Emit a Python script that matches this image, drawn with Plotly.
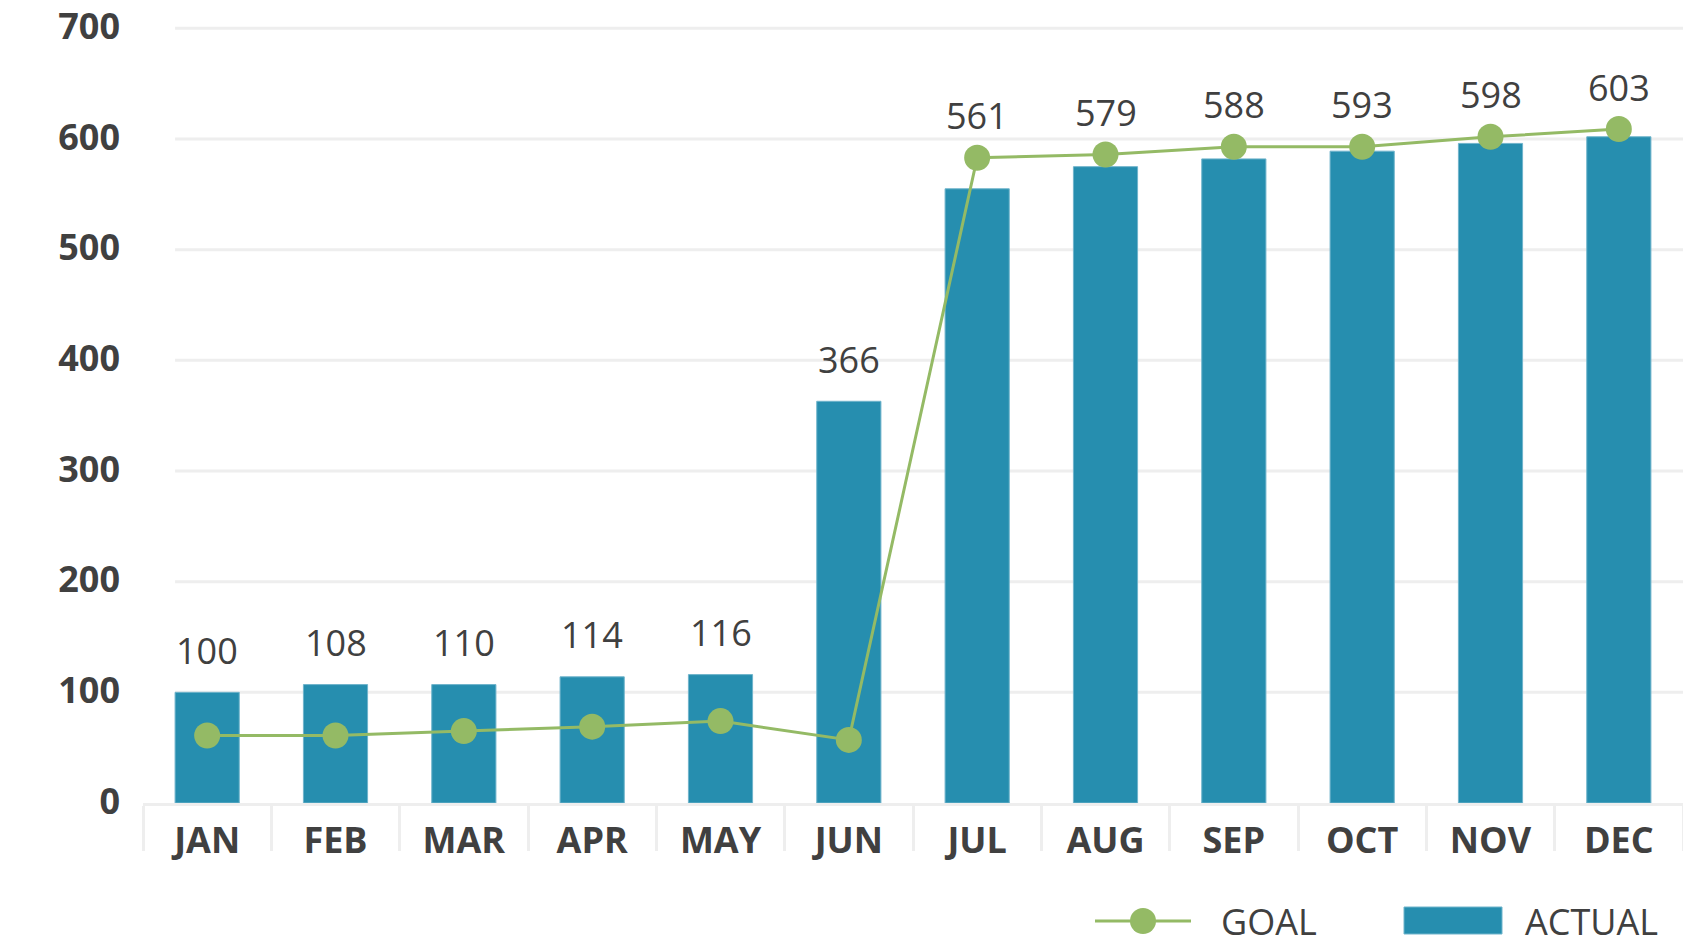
import plotly.graph_objects as go

months = ["JAN", "FEB", "MAR", "APR", "MAY", "JUN", "JUL", "AUG", "SEP", "OCT", "NOV", "DEC"]
actual = [100, 107, 107, 114, 116, 363, 555, 575, 582, 589, 596, 602]
goal = [61, 61, 65, 69, 74, 57, 583, 586, 593, 593, 602, 609]
value_labels = ["100", "108", "110", "114", "116", "366", "561", "579", "588", "593", "598", "603"]
y_ticks = [0, 100, 200, 300, 400, 500, 600, 700]

W, H = 1683, 947
ML, MR, MT, MB = 143, 0, 25, 144
PW, PH = W - ML - MR, H - MT - MB

BAR = "#268EAF"
GREEN = "#94BA65"
TXT = "#404040"
GRID = "#EEEEEE"
FONT = "Open Sans"


def px(x, y):
    return (x - ML) / PW, (H - MB - y) / PH


fig = go.Figure()
fig.add_trace(go.Bar(x=months, y=actual, name="ACTUAL", width=0.5,
                     marker=dict(color=BAR, line=dict(color="#6FB4CB", width=1)),
                     showlegend=False))
fig.add_trace(go.Scatter(x=months, y=goal, name="GOAL", mode="lines+markers",
                         line=dict(color=GREEN, width=3),
                         marker=dict(color=GREEN, size=26),
                         showlegend=False))

shapes = []
for v in y_ticks[1:]:
    shapes.append(dict(type="line", xref="x", yref="y", x0=-0.25, x1=11.5, y0=v, y1=v,
                       line=dict(color=GRID, width=3), layer="below"))

annotations = []
for m, a, g, t in zip(months, actual, goal, value_labels):
    annotations.append(dict(x=m, y=max(a, g), yshift=42, text=t, showarrow=False,
                            xanchor="center", yanchor="middle",
                            font=dict(family=FONT, size=36, color=TXT)))

# custom legend
lx0, ly0 = px(1095, 921)
lx1, _ = px(1191, 921)
shapes.append(dict(type="line", xref="paper", yref="paper", x0=lx0, x1=lx1, y0=ly0, y1=ly0,
                   line=dict(color=GREEN, width=3)))
cx0, cy0 = px(1130, 934)
cx1, cy1 = px(1156, 908)
shapes.append(dict(type="circle", xref="paper", yref="paper", x0=cx0, x1=cx1, y0=cy0, y1=cy1,
                   fillcolor=GREEN, line=dict(width=0)))
rx0, ry0 = px(1404, 934)
rx1, ry1 = px(1502, 907)
shapes.append(dict(type="rect", xref="paper", yref="paper", x0=rx0, x1=rx1, y0=ry0, y1=ry1,
                   fillcolor=BAR, line=dict(color="#6FB4CB", width=1)))
gx, gy = px(1219, 921)
annotations.append(dict(xref="paper", yref="paper", x=gx, y=gy, text="GOAL", showarrow=False,
                        xanchor="left", yanchor="middle",
                        font=dict(family=FONT, size=36, color=TXT)))
ax_, ay_ = px(1523, 921)
annotations.append(dict(xref="paper", yref="paper", x=ax_, y=ay_, text="ACTUAL", showarrow=False,
                        xanchor="left", yanchor="middle",
                        font=dict(family=FONT, size=36, color=TXT)))

fig.update_layout(
    width=W, height=H,
    margin=dict(l=ML, r=MR, t=MT, b=MB, pad=0, autoexpand=False),
    paper_bgcolor="white", plot_bgcolor="white",
    shapes=shapes, annotations=annotations,
    showlegend=False,
    bargap=0.5,
    xaxis=dict(type="category", range=[-0.5, 11.5], showline=True, linecolor=GRID, linewidth=3,
               ticks="outside", tickson="boundaries", ticklen=45, tickwidth=3, tickcolor=GRID,
               showgrid=False, zeroline=False, ticklabelstandoff=4, automargin=False,
               tickfont=dict(family=FONT, size=36, color=TXT, weight="bold")),
    yaxis=dict(range=[0, 703], tickvals=y_ticks, showgrid=False, zeroline=False, showline=False,
               ticks="", ticklabelstandoff=22, ticklabelshift=-2, ticklabeloverflow="allow",
               automargin=False,
               tickfont=dict(family=FONT, size=36, color=TXT, weight="bold")),
)

fig.write_html("out.html", config={"displayModeBar": False},
               post_script="document.body.style.margin='0';document.body.style.overflow='hidden';")
